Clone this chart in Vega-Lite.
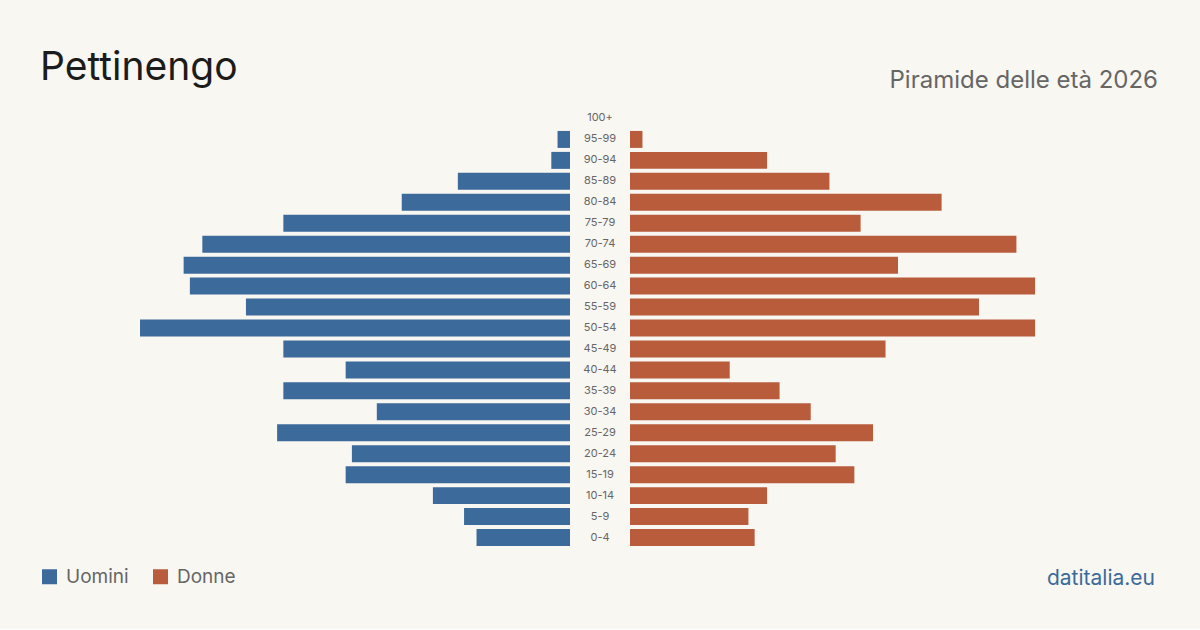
{
  "$schema": "https://vega.github.io/schema/vega-lite/v6.json",
  "background": "#f9f7f2",
  "padding": {"top": 49, "left": 40, "right": 42, "bottom": 40},
  "datasets": {
    "pop": [
      {"age": "100+", "sex": "Uomini", "n": 0}, {"age": "100+", "sex": "Donne", "n": 0},
      {"age": "95-99", "sex": "Uomini", "n": 2}, {"age": "95-99", "sex": "Donne", "n": 2},
      {"age": "90-94", "sex": "Uomini", "n": 3}, {"age": "90-94", "sex": "Donne", "n": 22},
      {"age": "85-89", "sex": "Uomini", "n": 18}, {"age": "85-89", "sex": "Donne", "n": 32},
      {"age": "80-84", "sex": "Uomini", "n": 27}, {"age": "80-84", "sex": "Donne", "n": 50},
      {"age": "75-79", "sex": "Uomini", "n": 46}, {"age": "75-79", "sex": "Donne", "n": 37},
      {"age": "70-74", "sex": "Uomini", "n": 59}, {"age": "70-74", "sex": "Donne", "n": 62},
      {"age": "65-69", "sex": "Uomini", "n": 62}, {"age": "65-69", "sex": "Donne", "n": 43},
      {"age": "60-64", "sex": "Uomini", "n": 61}, {"age": "60-64", "sex": "Donne", "n": 65},
      {"age": "55-59", "sex": "Uomini", "n": 52}, {"age": "55-59", "sex": "Donne", "n": 56},
      {"age": "50-54", "sex": "Uomini", "n": 69}, {"age": "50-54", "sex": "Donne", "n": 65},
      {"age": "45-49", "sex": "Uomini", "n": 46}, {"age": "45-49", "sex": "Donne", "n": 41},
      {"age": "40-44", "sex": "Uomini", "n": 36}, {"age": "40-44", "sex": "Donne", "n": 16},
      {"age": "35-39", "sex": "Uomini", "n": 46}, {"age": "35-39", "sex": "Donne", "n": 24},
      {"age": "30-34", "sex": "Uomini", "n": 31}, {"age": "30-34", "sex": "Donne", "n": 29},
      {"age": "25-29", "sex": "Uomini", "n": 47}, {"age": "25-29", "sex": "Donne", "n": 39},
      {"age": "20-24", "sex": "Uomini", "n": 35}, {"age": "20-24", "sex": "Donne", "n": 33},
      {"age": "15-19", "sex": "Uomini", "n": 36}, {"age": "15-19", "sex": "Donne", "n": 36},
      {"age": "10-14", "sex": "Uomini", "n": 22}, {"age": "10-14", "sex": "Donne", "n": 22},
      {"age": "5-9", "sex": "Uomini", "n": 17}, {"age": "5-9", "sex": "Donne", "n": 19},
      {"age": "0-4", "sex": "Uomini", "n": 15}, {"age": "0-4", "sex": "Donne", "n": 20}
    ]
  },
  "data": {"name": "pop"},
  "title": {"text": "datitalia.eu", "orient": "bottom", "anchor": "end", "fontSize": 21, "fontWeight": "normal", "color": "#3b6a9b", "font": "Inter", "dy": -23, "dx": -3},
  "spacing": 0,
  "hconcat": [
    {
      "width": 530,
      "height": 440,
      "title": {"text": "Pettinengo", "anchor": "start", "fontSize": 39, "fontWeight": "normal", "color": "#1c1c1c", "font": "Inter", "baseline": "alphabetic", "offset": -11},
      "transform": [{"filter": "datum.sex === 'Uomini'"}],
      "mark": {"type": "bar"},
      "encoding": {
        "y": {"field": "age", "type": "ordinal", "axis": null,
              "sort": ["100+","95-99","90-94","85-89","80-84","75-79","70-74","65-69","60-64","55-59","50-54","45-49","40-44","35-39","30-34","25-29","20-24","15-19","10-14","5-9","0-4"],
              "scale": {"paddingInner": 0.19, "paddingOuter": 0.095}},
        "x": {"field": "n", "type": "quantitative", "axis": null, "scale": {"domain": [0, 85.05], "reverse": true, "nice": false}},
        "color": {"field": "sex", "type": "nominal", "scale": {"domain": ["Uomini", "Donne"], "range": ["#3b6a9b", "#b85c3c"]},
                  "legend": {"title": null, "orient": "bottom", "direction": "horizontal", "symbolType": "square", "symbolSize": 225, "symbolStrokeWidth": 0, "symbolOpacity": 1, "labelFontSize": 19, "labelColor": "#666666", "labelFont": "Inter", "columnPadding": 22, "labelOffset": 7, "offset": 19, "padding": 0}}
      }
    },
    {
      "width": 60,
      "height": 440,
      "transform": [{"filter": "datum.sex === 'Uomini'"}],
      "mark": {"type": "text", "fontSize": 11, "color": "#666666", "font": "Inter", "align": "center", "baseline": "middle"},
      "encoding": {
        "y": {"field": "age", "type": "ordinal", "axis": null,
              "sort": ["100+","95-99","90-94","85-89","80-84","75-79","70-74","65-69","60-64","55-59","50-54","45-49","40-44","35-39","30-34","25-29","20-24","15-19","10-14","5-9","0-4"],
              "scale": {"paddingInner": 0.19, "paddingOuter": 0.095}},
        "text": {"field": "age"}
      }
    },
    {
      "width": 528,
      "height": 440,
      "title": {"text": "Piramide delle età 2026", "anchor": "end", "fontSize": 24, "fontWeight": "normal", "color": "#666666", "font": "Inter", "baseline": "alphabetic", "offset": -3.5},
      "transform": [{"filter": "datum.sex === 'Donne'"}],
      "mark": {"type": "bar"},
      "encoding": {
        "y": {"field": "age", "type": "ordinal", "axis": null,
              "sort": ["100+","95-99","90-94","85-89","80-84","75-79","70-74","65-69","60-64","55-59","50-54","45-49","40-44","35-39","30-34","25-29","20-24","15-19","10-14","5-9","0-4"],
              "scale": {"paddingInner": 0.19, "paddingOuter": 0.095}},
        "x": {"field": "n", "type": "quantitative", "axis": null, "scale": {"domain": [0, 84.72], "nice": false}},
        "color": {"field": "sex", "type": "nominal", "scale": {"domain": ["Uomini", "Donne"], "range": ["#3b6a9b", "#b85c3c"]}}
      }
    }
  ],
  "config": {
    "view": {"stroke": null},
    "font": "Inter"
  }
}
